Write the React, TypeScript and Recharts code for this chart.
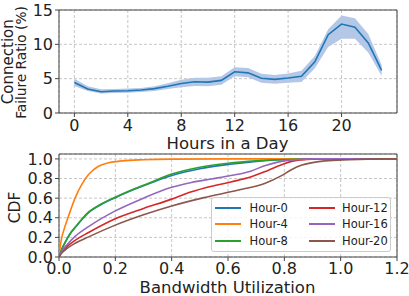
import React from "react";
import {
  ComposedChart,
  LineChart,
  Line,
  Area,
  XAxis,
  YAxis,
  CartesianGrid,
  ReferenceArea,
} from "recharts";

// ---------- Top panel data ----------
const hours = [0, 1, 2, 3, 4, 5, 6, 7, 8, 9, 10, 11, 12, 13, 14, 15, 16, 17, 18, 19, 20, 21, 22, 23];
const failureMean = [4.45, 3.5, 3.1, 3.2, 3.25, 3.35, 3.55, 3.9, 4.3, 4.55, 4.5, 4.75, 6.0, 5.85, 5.05, 4.9, 5.1, 5.35, 7.45, 11.4, 12.95, 12.5, 10.2, 6.2];
const failureLower = [3.95, 3.2, 2.85, 2.9, 2.95, 3.05, 3.2, 3.5, 3.75, 3.95, 3.9, 4.1, 5.35, 5.2, 4.4, 4.25, 4.4, 4.5, 6.5, 9.6, 10.8, 10.8, 8.8, 5.4];
const failureUpper = [5.0, 3.9, 3.45, 3.5, 3.55, 3.65, 3.9, 4.35, 4.85, 5.15, 5.15, 5.35, 6.65, 6.55, 5.7, 5.55, 5.75, 6.15, 8.3, 12.2, 14.2, 13.8, 11.5, 7.0];
const hourTicks = [0, 4, 8, 12, 16, 20];
const failureTicks = [0, 5, 10, 15];

// ---------- Bottom panel data ----------
const seriesNames = ["Hour-0", "Hour-4", "Hour-8", "Hour-12", "Hour-16", "Hour-20"];
const seriesColors = ["#1f77b4", "#ff7f0e", "#2ca02c", "#d62728", "#9467bd", "#8c564b"];

const hour0X = [0, 0.01, 0.02, 0.04, 0.06, 0.1, 0.15, 0.2, 0.27, 0.34, 0.4, 0.5, 0.6, 0.7, 0.8, 0.85, 1.0, 1.2];
const hour0Y = [0, 0.08, 0.14, 0.24, 0.31, 0.44, 0.535, 0.605, 0.692, 0.77, 0.83, 0.9, 0.943, 0.975, 0.995, 1.0, 1.0, 1.0];
const hour4X = [0, 0.005, 0.01, 0.02, 0.033, 0.057, 0.081, 0.105, 0.14, 0.176, 0.224, 0.3, 0.4, 0.6, 1.0, 1.2];
const hour4Y = [0, 0.12, 0.2, 0.3, 0.41, 0.6, 0.74, 0.84, 0.925, 0.96, 0.98, 0.992, 0.998, 1.0, 1.0, 1.0];
const hour8X = [0, 0.01, 0.02, 0.04, 0.06, 0.1, 0.15, 0.2, 0.27, 0.34, 0.4, 0.5, 0.6, 0.7, 0.8, 0.85, 1.0, 1.2];
const hour8Y = [0, 0.08, 0.14, 0.24, 0.31, 0.445, 0.54, 0.61, 0.698, 0.778, 0.845, 0.915, 0.956, 0.98, 0.993, 0.998, 1.0, 1.0];
const hour12X = [0, 0.01, 0.03, 0.057, 0.105, 0.2, 0.3, 0.4, 0.45, 0.52, 0.61, 0.68, 0.74, 0.79, 0.825, 0.86, 0.9, 1.0, 1.2];
const hour12Y = [0, 0.05, 0.11, 0.17, 0.25, 0.39, 0.495, 0.59, 0.645, 0.705, 0.765, 0.815, 0.88, 0.94, 0.975, 0.99, 0.998, 1.0, 1.0];
const hour16X = [0, 0.01, 0.03, 0.057, 0.105, 0.2, 0.3, 0.4, 0.47, 0.54, 0.61, 0.68, 0.73, 0.78, 0.81, 0.85, 0.9, 1.0, 1.2];
const hour16Y = [0, 0.06, 0.13, 0.21, 0.31, 0.47, 0.6, 0.71, 0.76, 0.795, 0.83, 0.875, 0.93, 0.97, 0.985, 0.995, 1.0, 1.0, 1.0];
const hour20X = [0, 0.01, 0.03, 0.057, 0.105, 0.2, 0.3, 0.4, 0.515, 0.634, 0.73, 0.79, 0.825, 0.86, 0.9, 0.944, 1.03, 1.15, 1.2];
const hour20Y = [0, 0.04, 0.09, 0.14, 0.205, 0.325, 0.43, 0.52, 0.605, 0.68, 0.75, 0.83, 0.89, 0.935, 0.962, 0.98, 0.992, 1.0, 1.0];

const utilTicks = [0, 0.2, 0.4, 0.6, 0.8, 1.0, 1.2];
const cdfTicks = [0, 0.2, 0.4, 0.6, 0.8, 1.0];

const FONT = "'DejaVu Sans', sans-serif";
const TEXT = "#222";
const FRAME = "#444";

const topData = hours.map((h, i) => ({
  hour: h,
  mean: failureMean[i],
  band: [failureLower[i], failureUpper[i]],
}));

const cdfXs = [hour0X, hour4X, hour8X, hour12X, hour16X, hour20X];
const cdfYs = [hour0Y, hour4Y, hour8Y, hour12Y, hour16Y, hour20Y];
const cdfSeries = seriesNames.map((name, k) => ({
  name,
  color: seriesColors[k],
  data: cdfXs[k].map((x, i) => ({ u: x, cdf: cdfYs[k][i] })),
}));

const tickStyle = { fill: TEXT, fontSize: 16, fontFamily: FONT };

export default function App() {
  return (
    <div style={{ position: "absolute", left: 0, top: 0, width: 409, height: 296, background: "#fff", fontFamily: FONT }}>
      <div style={{ position: "absolute", left: 0, top: 0 }}>
        <ComposedChart width={409} height={148} data={topData} margin={{ top: 10, right: 12, bottom: 0, left: 19 }}>
          <CartesianGrid stroke="#b8b8b8" strokeDasharray="3 2" strokeWidth={0.8} />
          <XAxis
            dataKey="hour"
            type="number"
            domain={[-1.15, 24.15]}
            ticks={hourTicks}
            allowDataOverflow
            interval={0}
            height={35}
            tickSize={4}
            tickMargin={3}
            axisLine={false}
            tickLine={{ stroke: FRAME }}
            tick={tickStyle}
          />
          <YAxis
            type="number"
            domain={[0, 15]}
            ticks={failureTicks}
            allowDataOverflow
            interval={0}
            width={40}
            tickSize={4}
            tickMargin={2}
            axisLine={false}
            tickLine={{ stroke: FRAME }}
            tick={tickStyle}
          />
          <Area dataKey="band" type="linear" stroke="none" fill="#b4c7e7" fillOpacity={1} isAnimationActive={false} />
          <Line dataKey="mean" type="linear" stroke="#1f77b4" strokeWidth={1.6} dot={false} isAnimationActive={false} />
          <ReferenceArea x1={-1.15} x2={24.15} y1={0} y2={15} fill="none" stroke={FRAME} strokeWidth={1} ifOverflow="visible" />
        </ComposedChart>
      </div>

      <div style={{ position: "absolute", left: 0, top: 148 }}>
        <LineChart width={409} height={148} margin={{ top: 6, right: 12, bottom: 0, left: 19 }}>
          <CartesianGrid stroke="#b8b8b8" strokeDasharray="3 2" strokeWidth={0.8} />
          <XAxis
            dataKey="u"
            type="number"
            domain={[0, 1.2]}
            ticks={utilTicks}
            allowDataOverflow
            interval={0}
            height={39}
            tickSize={4}
            tickMargin={2}
            axisLine={false}
            tickLine={{ stroke: FRAME }}
            tick={tickStyle}
            tickFormatter={(v: number) => v.toFixed(1)}
          />
          <YAxis
            type="number"
            domain={[0, 1.05]}
            ticks={cdfTicks}
            allowDataOverflow
            interval={0}
            width={40}
            tickSize={4}
            tickMargin={2}
            axisLine={false}
            tickLine={{ stroke: FRAME }}
            tick={tickStyle}
            tickFormatter={(v: number) => v.toFixed(1)}
          />
          {cdfSeries.map((s) => (
            <Line
              key={s.name}
              data={s.data}
              dataKey="cdf"
              name={s.name}
              type="monotone"
              stroke={s.color}
              strokeWidth={1.6}
              dot={false}
              isAnimationActive={false}
            />
          ))}
          <ReferenceArea x1={0} x2={1.2} y1={0} y2={1.05} fill="none" stroke={FRAME} strokeWidth={1} ifOverflow="visible" />
        </LineChart>
      </div>

      {/* Axis titles */}
      <svg width={409} height={296} style={{ position: "absolute", left: 0, top: 0, pointerEvents: "none" }}>
        <text x={13} y={61.7} transform="rotate(-90 13 61.7)" textAnchor="middle" fontSize={15} fontFamily={FONT} fill={TEXT}>
          Connection
        </text>
        <text x={26} y={62.5} transform="rotate(-90 26 62.5)" textAnchor="middle" fontSize={13.7} fontFamily={FONT} fill={TEXT}>
          Failure Ratio (%)
        </text>
        <text x={227.5} y={149.3} textAnchor="middle" fontSize={16.5} fontFamily={FONT} fill={TEXT}>
          Hours in a Day
        </text>
        <text x={19.5} y={207.5} transform="rotate(-90 19.5 207.5)" textAnchor="middle" fontSize={15.5} fontFamily={FONT} fill={TEXT}>
          CDF
        </text>
        <text x={227.5} y={292.5} textAnchor="middle" fontSize={16.5} fontFamily={FONT} fill={TEXT}>
          Bandwidth Utilization
        </text>
      </svg>

      {/* Legend */}
      <div
        style={{
          position: "absolute",
          left: 211,
          top: 197,
          width: 180,
          height: 55,
          boxSizing: "border-box",
          border: "1px solid #cccccc",
          borderRadius: 3,
          background: "rgba(255,255,255,0.8)",
        }}
      >
        {cdfSeries.map((s, k) => {
          const col = Math.floor(k / 3);
          const row = k % 3;
          const lineLeft = col === 0 ? 3 : 96.5;
          const textLeft = col === 0 ? 37.5 : 130;
          const cy = 9.5 + row * 16.7;
          return (
            <React.Fragment key={s.name}>
              <div style={{ position: "absolute", left: lineLeft, top: cy - 1, width: 26, height: 2, background: s.color }} />
              <div
                style={{
                  position: "absolute",
                  left: textLeft,
                  top: cy - 8,
                  height: 16,
                  lineHeight: "16px",
                  fontSize: 11.5,
                  fontFamily: FONT,
                  color: TEXT,
                  whiteSpace: "nowrap",
                }}
              >
                {s.name}
              </div>
            </React.Fragment>
          );
        })}
      </div>
    </div>
  );
}
